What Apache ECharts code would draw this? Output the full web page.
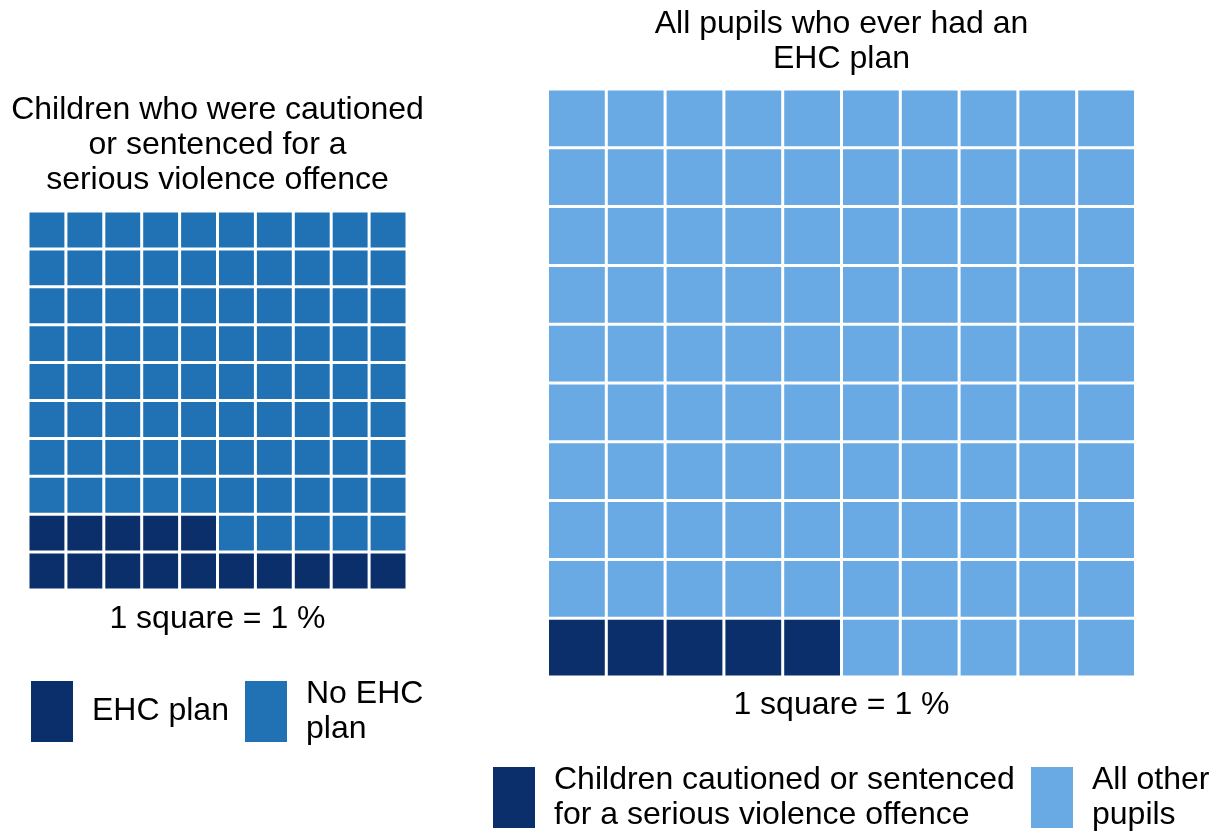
<!DOCTYPE html>
<html>
<head>
<meta charset="utf-8">
<script src="https://cdn.jsdelivr.net/npm/echarts@6/dist/echarts.min.js"></script>
<style>
  html, body { margin: 0; padding: 0; background: #fff; }
  #main { width: 1217px; height: 831px; }
</style>
</head>
<body>
<div id="main"></div>
<script>
// waffle grid: 10 x 10, 1 square = 1 %
const cols = ['1', '2', '3', '4', '5', '6', '7', '8', '9', '10'];
const rows = ['1', '2', '3', '4', '5', '6', '7', '8', '9', '10'];

const leftGroups = ['EHC plan', 'No EHC plan'];
const leftPercent = [15, 85];
const leftLegendText = ['EHC plan', 'No EHC\nplan'];

const rightGroups = ['Children cautioned or sentenced for a serious violence offence', 'All other pupils'];
const rightPercent = [5, 95];
const rightLegendText = ['Children cautioned or sentenced\nfor a serious violence offence', 'All other\npupils'];

const leftTitle = 'Children who were cautioned\nor sentenced for a\nserious violence offence';
const rightTitle = 'All pupils who ever had an\nEHC plan';
const unitNote = '1 square = 1 %';

const FONT = '"Liberation Sans", Arial, sans-serif';
const FS = 32;
const NAVY = '#0b2f6b';
const MID = '#2171b5';
const LIGHT = '#6aaae4';

// fill squares from bottom-left, row by row
function buildCells(percent) {
  const out = percent.map(() => []);
  let k = 0;
  percent.forEach((n, g) => {
    for (let i = 0; i < n; i++, k++) {
      out[g].push([cols[k % 10], rows[Math.floor(k / 10)]]);
    }
  });
  return out;
}

function renderCell(params, api) {
  const p = api.coord([api.value(0), api.value(1)]);
  const s = api.size([1, 1]);
  const gap = 3;
  return {
    type: 'rect',
    shape: {
      x: p[0] - s[0] / 2 + gap / 2,
      y: p[1] - s[1] / 2 + gap / 2,
      width: s[0] - gap,
      height: s[1] - gap
    },
    style: api.style()
  };
}

const leftCells = buildCells(leftPercent);
const rightCells = buildCells(rightPercent);
const leftColors = [NAVY, MID];
const rightColors = [NAVY, LIGHT];

function legendFor(name, text, left, top) {
  return {
    data: [name],
    left: left,
    top: top,
    padding: 0,
    icon: 'rect',
    itemWidth: 42,
    itemHeight: 61,
    selectedMode: false,
    formatter: () => text,
    textStyle: {
      fontFamily: FONT,
      fontSize: FS,
      lineHeight: 35,
      color: '#000',
      padding: [5, 0, 0, 14]
    }
  };
}

function textEl(text, x, y) {
  return {
    type: 'text',
    x: x,
    y: y,
    style: {
      text: text,
      fontFamily: FONT,
      fontSize: FS,
      lineHeight: 35,
      fill: '#000',
      align: 'center',
      verticalAlign: 'middle'
    }
  };
}

const hiddenCat = (data, gridIndex) => ({
  type: 'category',
  data: data,
  gridIndex: gridIndex,
  show: false,
  boundaryGap: true
});

const chart = echarts.init(document.getElementById('main'));
const option = {
  backgroundColor: '#fff',
  animation: false,
  grid: [
    { left: 28, top: 211, width: 379, height: 379 },
    { left: 547.5, top: 89, width: 588, height: 588 }
  ],
  xAxis: [hiddenCat(cols, 0), hiddenCat(cols, 1)],
  yAxis: [hiddenCat(rows, 0), hiddenCat(rows, 1)],
  legend: [
    legendFor(leftGroups[0], leftLegendText[0], 31, 681),
    legendFor(leftGroups[1], leftLegendText[1], 245, 674),
    legendFor(rightGroups[0], rightLegendText[0], 493, 760),
    legendFor(rightGroups[1], rightLegendText[1], 1031, 760)
  ],
  graphic: [
    textEl(leftTitle, 217.5, 145),
    textEl(rightTitle, 841.5, 41.5),
    textEl(unitNote, 217.5, 619),
    textEl(unitNote, 841.5, 705.5)
  ],
  series: [
    ...leftGroups.map((name, g) => ({
      name: name,
      type: 'custom',
      xAxisIndex: 0,
      yAxisIndex: 0,
      renderItem: renderCell,
      itemStyle: { color: leftColors[g] },
      encode: { x: 0, y: 1 },
      data: leftCells[g]
    })),
    ...rightGroups.map((name, g) => ({
      name: name,
      type: 'custom',
      xAxisIndex: 1,
      yAxisIndex: 1,
      renderItem: renderCell,
      itemStyle: { color: rightColors[g] },
      encode: { x: 0, y: 1 },
      data: rightCells[g]
    }))
  ]
};
chart.setOption(option);
</script>
</body>
</html>
